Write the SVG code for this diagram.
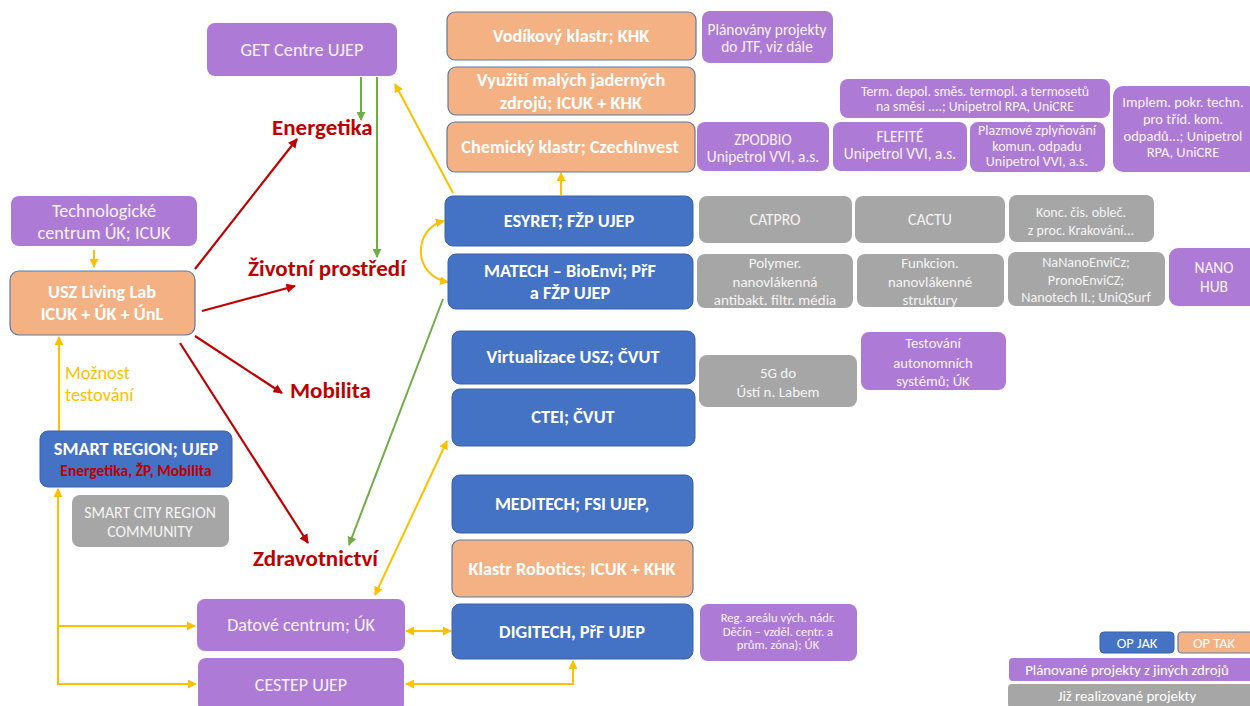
<svg xmlns="http://www.w3.org/2000/svg" width="1250" height="706" viewBox="0 0 1250 706">
<defs>
<style>
.p{fill:#ad7bd6}
.o{fill:#f4b183;stroke:#5b7aa8;stroke-width:1.2}
.b{fill:#4472c4;stroke:#3a62a8;stroke-width:1}
.g{fill:#a6a6a6}
text{font-family:Carlito,Lato,"Open Sans",sans-serif;text-anchor:middle}
.tw{fill:#f7f2fc;font-size:18.3px}
.tg{fill:#f4f4f4;font-size:15.8px}
.tb{fill:#ffffff;font-size:18.3px;font-weight:bold}
.cat{fill:#c00000;font-size:23px;font-weight:bold;text-anchor:start}
.ly{stroke:#ffc000;stroke-width:2;fill:none}
.lr{stroke:#c00000;stroke-width:2.2;fill:none}
.lg{stroke:#70ad47;stroke-width:2;fill:none}
</style>
<marker id="ay" viewBox="0 0 10 10" refX="9" refY="5" markerWidth="4.5" markerHeight="4.5" orient="auto-start-reverse"><path d="M0,0 L10,5 L0,10 z" fill="#ffc000"/></marker>
<marker id="ar" viewBox="0 0 10 10" refX="9" refY="5" markerWidth="4.3" markerHeight="4.3" orient="auto-start-reverse"><path d="M0,0 L10,5 L0,10 z" fill="#c00000"/></marker>
<marker id="ag" viewBox="0 0 10 10" refX="9" refY="5" markerWidth="4.5" markerHeight="4.5" orient="auto-start-reverse"><path d="M0,0 L10,5 L0,10 z" fill="#70ad47"/></marker>
</defs>
<rect width="1250" height="706" fill="#ffffff"/>

<g id="connectors">
<path class="lg" d="M361,77 L361,120" marker-end="url(#ag)"/>
<path class="lg" d="M377,77 L377,257" marker-end="url(#ag)"/>
<path class="lg" d="M443,299 L349,545" marker-end="url(#ag)"/>
<path class="ly" d="M453,193 L395,84" marker-end="url(#ay)"/>
<path class="ly" d="M561,195 L561,173" marker-end="url(#ay)"/>
<path class="ly" d="M444,221 C413,228 412,276 448,282" marker-start="url(#ay)" marker-end="url(#ay)"/>
<path class="ly" d="M375,595 L447,441" marker-start="url(#ay)" marker-end="url(#ay)"/>
<path class="ly" d="M406,631 L451,631" marker-start="url(#ay)" marker-end="url(#ay)"/>
<path class="ly" d="M573,661 L573,684 L406,684" marker-start="url(#ay)" marker-end="url(#ay)"/>
<path class="ly" d="M94,250 L94,267" marker-end="url(#ay)"/>
<path class="ly" d="M59,431 L59,337" marker-end="url(#ay)"/>
<path class="ly" d="M196,684 L58,684 L58,489" marker-start="url(#ay)" marker-end="url(#ay)"/>
<path class="ly" d="M58,626 L195,626" marker-end="url(#ay)"/>
<path class="lr" d="M195,269 L297,139" marker-end="url(#ar)"/>
<path class="lr" d="M202,311 L295,286" marker-end="url(#ar)"/>
<path class="lr" d="M195,336 L282,393" marker-end="url(#ar)"/>
<path class="lr" d="M180,343 L308,543" marker-end="url(#ar)"/>
<text x="65" y="379" style="fill:#ffc000;font-size:18.4px;text-anchor:start">Možnost</text>
<text x="65" y="401" style="fill:#ffc000;font-size:18.4px;text-anchor:start">testování</text>
</g>

<g id="cat-energetika"><text class="cat" x="272" y="135">Energetika</text></g>
<g id="cat-zp"><text class="cat" x="248" y="276">Životní prostředí</text></g>
<g id="cat-mobilita"><text class="cat" x="290" y="398">Mobilita</text></g>
<g id="cat-zdrav"><text class="cat" x="253" y="566">Zdravotnictví</text></g>

<g id="get"><rect class="p" x="207" y="23" width="190" height="53" rx="8"/><text class="tw" x="302" y="56">GET Centre UJEP</text></g>
<g id="techcentrum"><rect class="p" x="11" y="196" width="186" height="50" rx="8"/><text class="tw" x="104" y="217">Technologické</text><text class="tw" x="104" y="239">centrum ÚK; ICUK</text></g>
<g id="usz"><rect class="o" x="10" y="271" width="185" height="64" rx="9"/><text class="tb" x="102" y="298">USZ Living Lab</text><text class="tb" x="102" y="319.5">ICUK + ÚK + ÚnL</text></g>
<g id="smartregion"><rect class="b" x="40" y="431" width="192" height="56" rx="8"/><text class="tb" x="136" y="455">SMART REGION; UJEP</text><text x="136" y="475.5" style="fill:#c00000;font-size:15.5px;font-weight:bold">Energetika, ŽP, Mobilita</text></g>
<g id="smartcity"><rect class="g" x="72" y="495" width="157" height="52" rx="8"/><text class="tg" x="150" y="518">SMART CITY REGION</text><text class="tg" x="150" y="536.5">COMMUNITY</text></g>
<g id="datove"><rect class="p" x="197" y="599" width="208" height="52" rx="8"/><text class="tw" x="301" y="631" style="font-size:18px">Datové centrum; ÚK</text></g>
<g id="cestep"><rect class="p" x="198" y="658" width="206" height="54" rx="8"/><text class="tw" x="301" y="691" style="font-size:18px">CESTEP UJEP</text></g>

<g id="vodik"><rect class="o" x="447" y="12" width="249" height="48" rx="8"/><text class="tb" x="571" y="41.5">Vodíkový klastr; KHK</text></g>
<g id="vyuziti"><rect class="o" x="448" y="67" width="247" height="48" rx="8"/><text class="tb" x="571" y="86">Využití malých jaderných</text><text class="tb" x="571" y="108.5">zdrojů; ICUK + KHK</text></g>
<g id="chemicky"><rect class="o" x="447" y="122" width="248" height="50" rx="8"/><text class="tb" x="570" y="153">Chemický klastr; CzechInvest</text></g>
<g id="esyret"><rect class="b" x="445" y="196" width="248" height="50" rx="8"/><text class="tb" x="569" y="227">ESYRET; FŽP UJEP</text></g>
<g id="matech"><rect class="b" x="448" y="254" width="245" height="55" rx="8"/><text class="tb" x="570" y="277">MATECH – BioEnvi; PřF</text><text class="tb" x="570" y="299">a FŽP UJEP</text></g>
<g id="virtualizace"><rect class="b" x="452" y="331" width="243" height="53" rx="8"/><text class="tb" x="573" y="363">Virtualizace USZ; ČVUT</text></g>
<g id="ctei"><rect class="b" x="452" y="389" width="243" height="57" rx="8"/><text class="tb" x="573" y="423">CTEI; ČVUT</text></g>
<g id="meditech"><rect class="b" x="452" y="475" width="241" height="58" rx="8"/><text class="tb" x="572" y="510">MEDITECH; FSI UJEP,</text></g>
<g id="robotics"><rect class="o" x="452" y="540" width="241" height="57" rx="8"/><text class="tb" x="572" y="574.5">Klastr Robotics; ICUK + KHK</text></g>
<g id="digitech"><rect class="b" x="452" y="604" width="241" height="55" rx="8"/><text class="tb" x="572" y="638">DIGITECH, PřF UJEP</text></g>
<g id="regarealu"><rect class="p" x="700" y="604" width="157" height="57" rx="8"/><text class="tw" x="778" y="622" style="font-size:12.6px">Reg. areálu vých. nádr.</text><text class="tw" x="778" y="636" style="font-size:12.6px">Děčín – vzděl. centr. a</text><text class="tw" x="778" y="649" style="font-size:12.6px">prům. zóna); ÚK</text></g>

<g id="jtf"><rect class="p" x="702" y="11" width="131" height="52" rx="8"/><text class="tw" x="767" y="35" style="font-size:15.4px">Plánovány projekty</text><text class="tw" x="767" y="52" style="font-size:15.4px">do JTF, viz dále</text></g>
<g id="zpodbio"><rect class="p" x="697" y="122" width="132" height="49" rx="8"/><text class="tw" x="763" y="145" style="font-size:15.4px">ZPODBIO</text><text class="tw" x="763" y="162" style="font-size:15.4px">Unipetrol VVI, a.s.</text></g>
<g id="termdepol"><rect class="p" x="840" y="79" width="270" height="39" rx="8"/><text class="tw" x="975" y="95.5" style="font-size:13.8px">Term. depol. směs. termopl. a termosetů</text><text class="tw" x="975" y="111" style="font-size:13.8px">na směsi ....; Unipetrol RPA, UniCRE</text></g>
<g id="flefite"><rect class="p" x="833" y="122" width="134" height="49" rx="8"/><text class="tw" x="900" y="142" style="font-size:15.4px">FLEFITÉ</text><text class="tw" x="900" y="159" style="font-size:15.4px">Unipetrol VVI, a.s.</text></g>
<g id="plazma"><rect class="p" x="970" y="122" width="135" height="50" rx="8"/><text class="tw" x="1037" y="134.5" style="font-size:14px">Plazmové zplyňování</text><text class="tw" x="1037" y="150.5" style="font-size:14px">komun. odpadu</text><text class="tw" x="1037" y="165.5" style="font-size:14px">Unipetrol VVI, a.s.</text></g>
<g id="implem"><rect class="p" x="1113" y="86" width="145" height="86" rx="10"/><text class="tw" x="1183" y="106.5" style="font-size:14.5px">Implem. pokr. techn.</text><text class="tw" x="1183" y="123.5" style="font-size:14.5px">pro tříd. kom.</text><text class="tw" x="1183" y="140.5" style="font-size:14.5px">odpadů...; Unipetrol</text><text class="tw" x="1183" y="157" style="font-size:14.5px">RPA, UniCRE</text></g>
<g id="catpro"><rect class="g" x="699" y="196" width="153" height="47" rx="8"/><text class="tg" x="775" y="224.5">CATPRO</text></g>
<g id="cactu"><rect class="g" x="855" y="196" width="150" height="47" rx="8"/><text class="tg" x="930" y="224.5">CACTU</text></g>
<g id="konc"><rect class="g" x="1009" y="195" width="145" height="47" rx="8"/><text class="tg" x="1081" y="216.5" style="font-size:14px">Konc. čis. obleč.</text><text class="tg" x="1081" y="234.5" style="font-size:14px">z proc. Krakování...</text></g>
<g id="polymer"><rect class="g" x="697" y="254" width="156" height="54" rx="8"/><text class="tg" x="775" y="268" style="font-size:15px">Polymer.</text><text class="tg" x="775" y="287" style="font-size:15px">nanovlákenná</text><text class="tg" x="775" y="305" style="font-size:15px">antibakt. filtr. média</text></g>
<g id="funkcion"><rect class="g" x="857" y="254" width="147" height="53" rx="8"/><text class="tg" x="930" y="268" style="font-size:14.8px">Funkcion.</text><text class="tg" x="930" y="287" style="font-size:14.8px">nanovlákenné</text><text class="tg" x="930" y="305" style="font-size:14.8px">struktury</text></g>
<g id="nanano"><rect class="g" x="1008" y="252" width="157" height="54" rx="8"/><text class="tg" x="1086" y="266.5" style="font-size:14.2px">NaNanoEnviCz;</text><text class="tg" x="1086" y="284.5" style="font-size:14.2px">PronoEnviCZ;</text><text class="tg" x="1086" y="301.5" style="font-size:14.2px">Nanotech II.; UniQSurf</text></g>
<g id="nanohub"><rect class="p" x="1169" y="248" width="95" height="58" rx="9"/><text class="tw" x="1214" y="272.5" style="font-size:15.5px">NANO</text><text class="tw" x="1214" y="291.5" style="font-size:15.5px">HUB</text></g>
<g id="testovani"><rect class="p" x="861" y="332" width="145" height="58" rx="8"/><text class="tw" x="933" y="348" style="font-size:14.7px">Testování</text><text class="tw" x="933" y="367.5" style="font-size:14.7px">autonomních</text><text class="tw" x="933" y="386" style="font-size:14.7px">systémů; ÚK</text></g>
<g id="g5"><rect class="g" x="699" y="355" width="158" height="52" rx="8"/><text class="tg" x="778" y="378" style="font-size:15px">5G do</text><text class="tg" x="778" y="397" style="font-size:15px">Ústí n. Labem</text></g>

<g id="legend">
<rect class="b" x="1100" y="632" width="74" height="21" rx="4"/><text x="1137" y="647.5" style="fill:#fff;font-size:14.5px">OP JAK</text>
<rect class="o" x="1178" y="632" width="76" height="21" rx="4"/><text x="1214" y="647.5" style="fill:#fff;font-size:14.5px">OP TAK</text>
<rect class="p" x="1009" y="658" width="245" height="23" rx="4"/><text x="1127" y="674.5" style="fill:#fff;font-size:14.8px">Plánované projekty z jiných zdrojů</text>
<rect class="g" x="1008" y="684" width="246" height="24" rx="4"/><text x="1127" y="700.5" style="fill:#fff;font-size:14.8px">Již realizované projekty</text>
</g>
</svg>
